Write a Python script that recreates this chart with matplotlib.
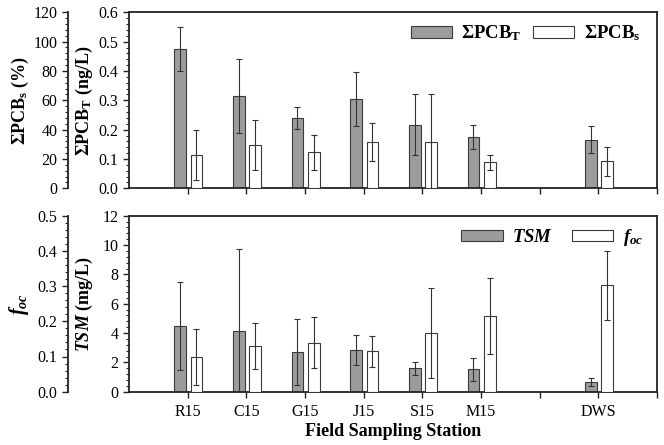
import matplotlib
matplotlib.use("Agg")
import matplotlib.pyplot as plt
from matplotlib.ticker import AutoMinorLocator, MultipleLocator, FixedLocator
from matplotlib.patches import Patch
import numpy as np

plt.rcParams['font.family'] = ['Liberation Serif', 'DejaVu Serif']
plt.rcParams['mathtext.fontset'] = 'custom'
plt.rcParams['mathtext.rm'] = 'Liberation Serif'
plt.rcParams['mathtext.it'] = 'Liberation Serif:italic'
plt.rcParams['mathtext.bf'] = 'Liberation Serif:bold'
plt.rcParams['mathtext.bfit'] = 'Liberation Serif:bold:italic'

# ---- data ----
stations = ["R15", "C15", "G15", "J15", "S15", "M15", "DWS"]
positions = [1, 2, 3, 4, 5, 6, 8]

pcb_t = [0.475, 0.314, 0.240, 0.305, 0.217, 0.175, 0.165]        # ng/L
pcb_t_err = [0.074, 0.126, 0.037, 0.093, 0.105, 0.042, 0.046]
pcb_s = [22.7, 29.3, 24.5, 31.4, 31.4, 17.7, 18.4]                # %
pcb_s_err = [17.0, 17.0, 11.7, 13.0, 32.8, 4.9, 9.8]

tsm = [4.48, 4.12, 2.71, 2.84, 1.59, 1.53, 0.66]                  # mg/L
tsm_err = [3.03, 5.6, 2.27, 1.05, 0.43, 0.80, 0.25]
foc = [0.098, 0.130, 0.139, 0.115, 0.166, 0.215, 0.302]
foc_err = [0.080, 0.066, 0.072, 0.044, 0.128, 0.108, 0.098]

gray = '#9c9c9c'
edge = '#3a3a3a'
W = 0.2
off_g, off_w = -0.13, 0.15
ekw = dict(ecolor='#333333', elinewidth=0.8, capsize=2.5, capthick=0.8)

fig = plt.figure(figsize=(6.64, 4.45), dpi=100)
L, R = 129 / 664, 657 / 664
H = 445
ax1 = fig.add_axes([L, 1 - 188.3 / H, R - L, (188.3 - 12.3) / H])
ax3 = fig.add_axes([L, 1 - 391.7 / H, R - L, (391.7 - 215.7) / H])

xg = [p + off_g for p in positions]
xw = [p + off_w for p in positions]


def style(ax, ax2, ylim1, step1, ylim2, step2, fmt1, fmt2):
    ax.set_xlim(0, 9)
    ax.set_ylim(*ylim1)
    ax2.set_ylim(*ylim2)
    ax.yaxis.set_major_locator(MultipleLocator(step1))
    ax2.yaxis.set_major_locator(MultipleLocator(step2))
    ax.yaxis.set_minor_locator(AutoMinorLocator(5))
    ax2.yaxis.set_minor_locator(AutoMinorLocator(5))
    ax.yaxis.set_major_formatter(fmt1)
    ax2.yaxis.set_major_formatter(fmt2)
    ax2.yaxis.set_label_position('left')
    ax2.yaxis.set_ticks_position('left')
    ax2.spines['left'].set_position(('outward', 44))
    for s in ['top', 'right', 'bottom']:
        ax2.spines[s].set_visible(False)
    for a in (ax, ax2):
        a.tick_params(axis='y', which='major', direction='out', length=4,
                      width=1, labelsize=11.5, color='#222222')
        a.tick_params(axis='y', which='minor', direction='out', length=2,
                      width=0.8, color='#222222')
        for sp in a.spines.values():
            sp.set_linewidth(1.3)
            sp.set_color('#222222')
    ax.xaxis.set_major_locator(FixedLocator([1, 2, 3, 4, 5, 6, 7, 8, 9]))
    ax.tick_params(axis='x', which='major', direction='out', length=4,
                   width=1, labelsize=11.5, color='#222222', pad=5)
    ax.tick_params(axis='x', which='minor', bottom=False)


# ---- top panel ----
ax1b = ax1.twinx()
ax1.bar(xg, pcb_t, width=W, color=gray, edgecolor=edge, linewidth=0.8,
        yerr=pcb_t_err, error_kw=ekw, zorder=2)
ax1b.bar(xw, pcb_s, width=W, color='white', edgecolor=edge, linewidth=0.8,
         yerr=pcb_s_err, error_kw=ekw, zorder=2)
style(ax1, ax1b, (0, 0.6), 0.1, (0, 120), 20,
      matplotlib.ticker.FormatStrFormatter('%.1f'),
      matplotlib.ticker.FormatStrFormatter('%d'))
ax1.set_xticklabels([])
ax1.set_ylabel(r'$\mathbf{\Sigma PCB_T}$ (ng/L)', fontsize=13, fontweight='bold')
ax1b.set_ylabel(r'$\mathbf{\Sigma PCB_s}$ (%)', fontsize=13, fontweight='bold')
ax1.yaxis.set_label_coords(-0.065, 0.5)
ax1b.yaxis.set_label_coords(-0.186, 0.5)
h1 = [Patch(facecolor=gray, edgecolor=edge, linewidth=0.8),
      Patch(facecolor='white', edgecolor=edge, linewidth=0.8)]
ax1b.legend(h1, [r'$\mathbf{\Sigma PCB_T}$', r'$\mathbf{\Sigma PCB_s}$'],
            ncol=2, frameon=False, loc='upper right', fontsize=13.5,
            handlelength=2.2, handleheight=0.55, columnspacing=0.6,
            handletextpad=0.5, borderaxespad=0.2, bbox_to_anchor=(0.99, 1.0))

# ---- bottom panel ----
ax3b = ax3.twinx()
ax3.bar(xg, tsm, width=W, color=gray, edgecolor=edge, linewidth=0.8,
        yerr=tsm_err, error_kw=ekw, zorder=2)
ax3b.bar(xw, foc, width=W, color='white', edgecolor=edge, linewidth=0.8,
         yerr=foc_err, error_kw=ekw, zorder=2)
style(ax3, ax3b, (0, 12), 2, (0, 0.5), 0.1,
      matplotlib.ticker.FormatStrFormatter('%d'),
      matplotlib.ticker.FormatStrFormatter('%.1f'))
ax3.set_xticklabels(stations[:6] + [''] + [stations[6]] + [''])
ax3.set_ylabel(r'$\mathbfit{TSM}$ (mg/L)', fontsize=13, fontweight='bold')
ax3b.set_ylabel(r'$\mathbfit{f}_{\mathbfit{oc}}$', fontsize=14.5, fontweight='bold')
ax3.yaxis.set_label_coords(-0.065, 0.5)
ax3b.yaxis.set_label_coords(-0.186, 0.5)
ax3.set_xlabel('Field Sampling Station', fontsize=13, fontweight='bold', labelpad=2)
h3 = [Patch(facecolor=gray, edgecolor=edge, linewidth=0.8),
      Patch(facecolor='white', edgecolor=edge, linewidth=0.8)]
ax3b.legend(h3, [r'$\mathbfit{TSM}$', r'$\mathbfit{f}_{\mathbfit{oc}}$'],
            ncol=2, frameon=False, loc='upper right', fontsize=13.5,
            handlelength=2.2, handleheight=0.55, columnspacing=1.0,
            handletextpad=0.5, borderaxespad=0.2, bbox_to_anchor=(0.995, 1.0))

fig.savefig('out.png', dpi=100)
